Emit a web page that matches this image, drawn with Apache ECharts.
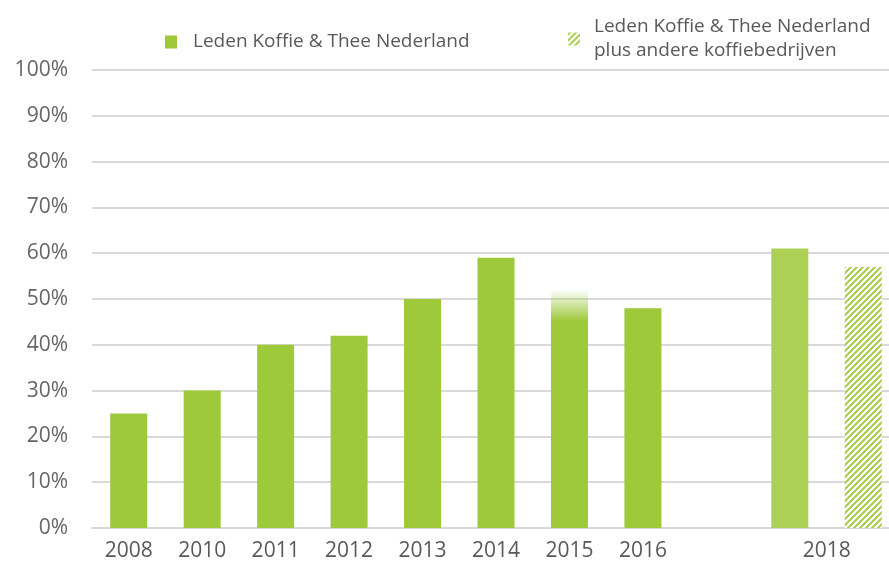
<!DOCTYPE html>
<html>
<head>
<meta charset="utf-8">
<script src="https://cdn.jsdelivr.net/npm/echarts@6/dist/echarts.min.js"></script>
<style>
  html, body { margin: 0; padding: 0; background: #fff; }
  #chart { width: 889px; height: 570px; }
</style>
</head>
<body>
<div id="chart"></div>
<script>
// data
const years = ['2008', '2010', '2011', '2012', '2013', '2014', '2015', '2016', '', '2018', ''];
const ledenValues = [25, 30, 40, 42, 50, 59, 52, 48, '-', 61, '-'];
const plusAndereValues = ['-', '-', '-', '-', '-', '-', '-', '-', '-', '-', 57];
const yTicks = [0, 10, 20, 30, 40, 50, 60, 70, 80, 90, 100];

const nameLeden = 'Leden Koffie & Thee Nederland';
const namePlus = 'Leden Koffie & Thee Nederland\nplus andere koffiebedrijven';

const green = '#9ec93a';
const lightGreen = '#abd055';

// schuine arcering voor de 2018 "plus andere" staaf
const makeHatch = () => {
  const size = 6;
  const cv = document.createElement('canvas');
  cv.width = size;
  cv.height = size;
  const ctx = cv.getContext('2d');
  const img = ctx.createImageData(size, size);
  for (let y = 0; y < size; y++) {
    for (let x = 0; x < size; x++) {
      const i = (y * size + x) * 4;
      const on = (x + y) % size < 3;
      img.data[i] = on ? 171 : 255;
      img.data[i + 1] = on ? 208 : 255;
      img.data[i + 2] = on ? 85 : 255;
      img.data[i + 3] = 255;
    }
  }
  ctx.putImageData(img, 0, 0);
  return cv;
};
const hatch = { image: makeHatch(), repeat: 'repeat' };

// 2015 vervaagt aan de bovenkant, 2018 lichter groen
const ledenData = ledenValues.map((v, i) => {
  if (years[i] === '2015') {
    return {
      value: v,
      itemStyle: {
        color: new echarts.graphic.LinearGradient(0, 0, 0, 1, [
          { offset: 0, color: 'rgba(158,201,58,0)' },
          { offset: 0.13, color: 'rgba(158,201,58,1)' },
          { offset: 1, color: 'rgba(158,201,58,1)' },
        ]),
      },
    };
  }
  if (years[i] === '2018') {
    return { value: v, itemStyle: { color: lightGreen } };
  }
  return v;
});

const axisData = years.map(y =>
  y === '2018' ? { value: y, textStyle: { padding: [0, 0, 0, 74] } } : y
);

const chart = echarts.init(document.getElementById('chart'));

const option = {
  animation: false,
  textStyle: { fontFamily: 'Open Sans' },
  grid: { left: 92, width: 808, top: 70, bottom: 42, outerBoundsMode: 'none' },
  legend: [
    {
      data: [nameLeden],
      left: 160,
      top: 25,
      itemWidth: 12,
      itemHeight: 13,
      icon: 'rect',
      textStyle: { fontSize: 19, color: '#595959', lineHeight: 24, padding: [0, 0, 0, 11] },
    },
    {
      data: [namePlus],
      left: 563,
      top: 10,
      itemWidth: 12,
      itemHeight: 13,
      icon: 'rect',
      textStyle: { fontSize: 19, color: '#595959', lineHeight: 24, padding: [0, 0, 0, 9] },
    },
  ],
  xAxis: {
    type: 'category',
    data: axisData,
    axisLine: { lineStyle: { color: '#d9d9d9', width: 2 } },
    axisTick: { show: false },
    axisLabel: { fontSize: 21, color: '#595959', margin: 13, interval: 0 },
  },
  yAxis: {
    type: 'value',
    min: 0,
    max: 100,
    interval: 10,
    axisLabel: {
      fontSize: 21,
      color: '#666666',
      margin: 24,
      formatter: v => (yTicks.includes(v) ? v + '%' : ''),
    },
    splitLine: { lineStyle: { color: '#d9d9d9', width: 2 } },
  },
  series: [
    {
      name: nameLeden,
      type: 'bar',
      stack: 'jaar',
      barWidth: 37,
      data: ledenData,
      itemStyle: { color: green },
    },
    {
      name: namePlus,
      type: 'bar',
      stack: 'jaar',
      barWidth: 37,
      data: plusAndereValues,
      itemStyle: { color: hatch },
    },
  ],
};

chart.setOption(option);
</script>
</body>
</html>
